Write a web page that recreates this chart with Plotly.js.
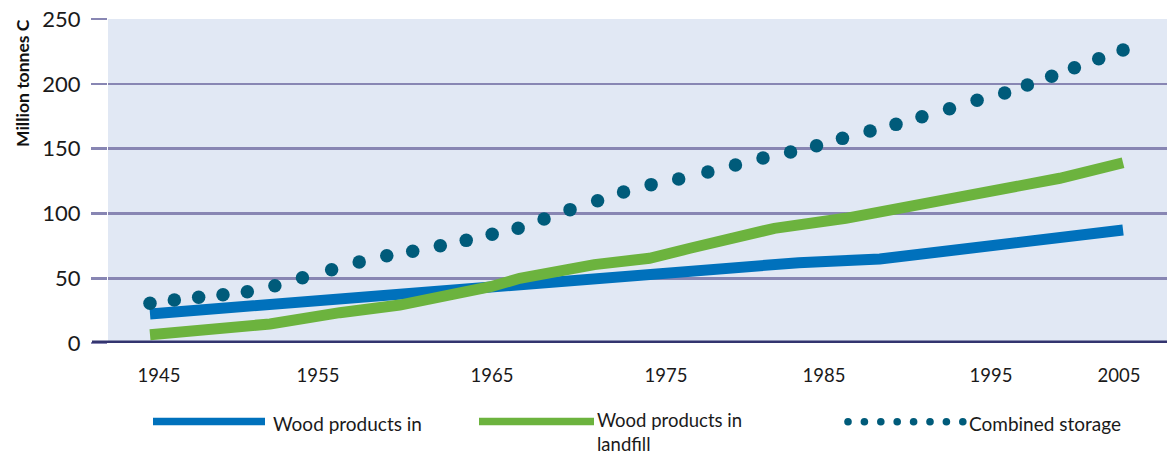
<!DOCTYPE html>
<html>
<head>
<meta charset="utf-8">
<script src="https://cdn.plot.ly/plotly-3.0.1.min.js"></script>
<style>html,body{margin:0;padding:0;background:#fff;}#chart{width:1167px;height:458px;}</style>
</head>
<body>
<div id="chart"></div>
<script>
// ---- data ----
const inUseYears   = [1945, 1950, 1955, 1960, 1965, 1970, 1975, 1980, 1985, 1990, 1995, 2000, 2005];
const inUseValues  = [22.4, 27.4, 32.4, 37.2, 42.1, 47.0, 52.5, 59.0, 62.0, 64.8, 72.0, 79.5, 87.2];

const landfillYears  = [1945, 1952.4, 1956.7, 1960.4, 1966.0, 1967.8, 1972.4, 1975.8, 1978.3, 1983.5, 1987.9, 1991.2, 1996.2, 2001.1, 2005];
const landfillValues = [6.4, 14.7, 23.4, 29.3, 43.4, 49.9, 60.5, 65.4, 73.1, 88.5, 96.2, 104.4, 115.5, 127.1, 139.1];

const combinedYears  = [1945.0,1946.5,1948.0,1949.5,1951.0,1952.7,1954.4,1956.2,1957.9,1959.6,1961.2,1962.9,1964.5,1966.1,1967.7,1969.3,1970.9,1972.6,1974.2,1975.9,1977.6,1979.4,1981.1,1982.8,1984.5,1986.1,1987.7,1989.4,1991.0,1992.6,1994.3,1996.0,1997.7,1999.1,2000.6,2002.0,2003.5,2005.0];
const combinedValues = [30.6,33.2,35.3,37.3,39.6,44.2,50.4,56.6,62.5,67.4,70.8,75.1,79.2,83.9,88.5,95.7,102.9,109.8,116.5,122.2,126.5,131.9,137.3,142.7,147.4,152.2,157.9,163.6,168.7,174.6,180.8,187.3,192.9,199.1,205.8,212.4,219.4,226.1];

const xTickLabels = ["1945", "1955", "1965", "1975", "1985", "1995", "2005"];
const xTickPos    = [1945.55, 1955.36, 1966.09, 1976.82, 1986.56, 1996.86, 2004.75];
const yTickVals   = [0, 50, 100, 150, 200, 250];

const seriesNames = ["Wood products in", "Wood products in<br>landfill", "Combined storage"];

// ---- styling / layout ----
const W = 1167, H = 458;
const L = 108, R = 0, T = 19, B = 115;
const plotW = W - L - R, plotH = H - T - B;
const px = x => (x - L) / plotW;             // pixel -> paper x
const py = y => (H - B - y) / plotH;         // pixel -> paper y

const BLUE = '#0071bc', GREEN = '#6cb33e', TEAL = '#005b7a';
const GRID = '#8886b3', NAVY = '#33346f', BG = '#e1e8f4';
const FONT = 'Lato, "Open Sans", sans-serif';

const traces = [
  {x: inUseYears, y: inUseValues, type: 'scatter', mode: 'lines', name: seriesNames[0],
   line: {color: BLUE, width: 11}, hoverinfo: 'skip'},
  {x: landfillYears, y: landfillValues, type: 'scatter', mode: 'lines', name: seriesNames[1],
   line: {color: GREEN, width: 11}, hoverinfo: 'skip'},
  {x: combinedYears, y: combinedValues, type: 'scatter', mode: 'markers', name: seriesNames[2],
   marker: {color: TEAL, size: 13.5, line: {width: 0}}, cliponaxis: false, hoverinfo: 'skip'}
];

const shapes = [
  // plot background
  {type: 'rect', xref: 'paper', yref: 'paper', x0: 0, x1: 1, y0: 0, y1: 1,
   fillcolor: BG, line: {width: 0}, layer: 'below'},
  // zero line incl. left extension
  {type: 'line', xref: 'paper', yref: 'y', x0: px(92), x1: 1, y0: 0, y1: 0,
   line: {color: NAVY, width: 5}, layer: 'above'},
  // legend samples
  {type: 'line', xref: 'paper', yref: 'paper', x0: px(153), x1: px(265), y0: py(421.5), y1: py(421.5),
   line: {color: BLUE, width: 7.5}},
  {type: 'line', xref: 'paper', yref: 'paper', x0: px(479), x1: px(594), y0: py(421.5), y1: py(421.5),
   line: {color: GREEN, width: 7.5}}
];
for (let i = 0; i < 8; i++) {
  const cx = 848 + i * 16.4, cy = 421.7, r = 3.8;
  shapes.push({type: 'circle', xref: 'paper', yref: 'paper',
    x0: px(cx - r), x1: px(cx + r), y0: py(cy - r), y1: py(cy + r),
    fillcolor: TEAL, line: {width: 0}});
}

const legendFont = {family: FONT, size: 19, color: '#1a1a1a'};
const annotations = [
  {text: '<b>Million tonnes C</b>', textangle: -90, xref: 'paper', yref: 'paper',
   x: px(22), y: py(83), xanchor: 'center', yanchor: 'middle', showarrow: false,
   font: {family: FONT, size: 17.5, color: '#111'}},
  {text: seriesNames[0], xref: 'paper', yref: 'paper', x: px(271), y: py(423),
   xanchor: 'left', yanchor: 'middle', showarrow: false, font: legendFont},
  {text: seriesNames[1], xref: 'paper', yref: 'paper', x: px(596), y: py(408),
   xanchor: 'left', yanchor: 'top', align: 'left', showarrow: false, borderpad: 0,
   font: {family: FONT, size: 18.5, color: '#1a1a1a'}},
  {text: seriesNames[2], xref: 'paper', yref: 'paper', x: px(967), y: py(423),
   xanchor: 'left', yanchor: 'middle', showarrow: false, font: legendFont}
];

const layout = {
  width: W, height: H,
  margin: {l: L, r: R, t: T, b: B, pad: 0},
  paper_bgcolor: '#ffffff', plot_bgcolor: 'rgba(0,0,0,0)',
  showlegend: false,
  font: {family: FONT, color: '#1a1a1a'},
  xaxis: {
    range: [1942.41, 2007.71], showgrid: false, zeroline: false, showline: false,
    tickmode: 'array', tickvals: xTickPos, ticktext: xTickLabels, ticks: '',
    tickfont: {family: FONT, size: 18.5, color: '#1a1a1a'}, ticklabelstandoff: 19, fixedrange: true
  },
  yaxis: {
    range: [0, 250], tickmode: 'array', tickvals: yTickVals,
    showgrid: true, gridcolor: GRID, gridwidth: 2.6, zeroline: false, showline: false,
    ticks: 'outside', ticklen: 16, tickwidth: 2.6, tickcolor: GRID,
    tickfont: {family: FONT, size: 22, color: '#1a1a1a'}, ticklabelstandoff: 6, fixedrange: true
  },
  shapes: shapes,
  annotations: annotations
};

Plotly.newPlot('chart', traces, layout, {staticPlot: true, displayModeBar: false});
</script>
</body>
</html>
